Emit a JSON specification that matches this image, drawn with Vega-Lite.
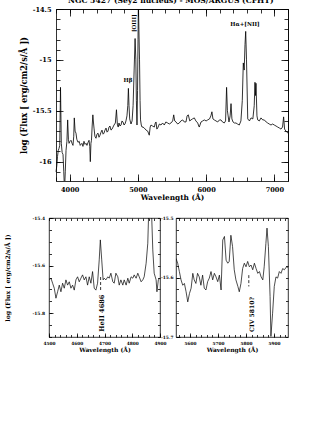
{
"$schema": "https://vega.github.io/schema/vega-lite/v6.json",
"padding": {"left": 4, "top": -4, "right": 5, "bottom": 5},
"title": {"text": "NGC 5427 (Sey2 nucleus) - MOS/ARGUS (CFHT)", "fontSize": 7.6, "font": "DejaVu Serif", "fontWeight": "bold", "color": "black", "frame": "group", "anchor": "start", "offset": 1.5, "dx": 19},
"config": {
  "font": "DejaVu Serif",
  "view": {"stroke": "black", "strokeWidth": 0.8},
  "axis": {"labelFont": "DejaVu Serif", "titleFont": "DejaVu Serif", "labelColor": "black", "titleColor": "black", "tickColor": "black", "tickWidth": 0.8, "domainColor": "black", "domainWidth": 0.8, "grid": false, "domain": false, "titleFontWeight": "bold", "labelFontWeight": "bold", "labelFlush": false, "labelOverlap": false},
  "text": {"font": "DejaVu Serif", "color": "black", "fontWeight": "bold"}
},
"datasets": {
  "top": [
{"w":3800,"f":-16.10},{"w":3812,"f":-16.04},{"w":3822,"f":-15.95},{"w":3833,"f":-15.89},{"w":3844,"f":-15.87},{"w":3855,"f":-15.84},{"w":3866,"f":-15.27},{"w":3878,"f":-15.82},{"w":3890,"f":-15.91},{"w":3903,"f":-15.93},{"w":3914,"f":-16.1},{"w":3925,"f":-16.28},{"w":3936,"f":-16.1},{"w":3947,"f":-15.89},{"w":3960,"f":-15.8},{"w":3971,"f":-15.59},{"w":3982,"f":-15.78},{"w":3991,"f":-15.82},{"w":4005,"f":-15.8},{"w":4020,"f":-15.79},{"w":4035,"f":-15.82},{"w":4049,"f":-15.84},{"w":4060,"f":-15.75},{"w":4068,"f":-15.57},{"w":4080,"f":-15.7},{"w":4093,"f":-15.72},{"w":4105,"f":-15.78},{"w":4122,"f":-15.81},{"w":4140,"f":-15.8},{"w":4155,"f":-15.84},{"w":4166,"f":-15.83},{"w":4180,"f":-15.82},{"w":4195,"f":-15.85},{"w":4210,"f":-15.8},{"w":4225,"f":-15.83},{"w":4240,"f":-15.82},{"w":4254,"f":-15.84},{"w":4270,"f":-15.81},{"w":4284,"f":-15.79},{"w":4295,"f":-15.85},{"w":4303,"f":-16.0},{"w":4312,"f":-15.82},{"w":4320,"f":-15.79},{"w":4330,"f":-15.65},{"w":4340,"f":-15.54},{"w":4350,"f":-15.62},{"w":4357,"f":-15.67},{"w":4370,"f":-15.75},{"w":4386,"f":-15.77},{"w":4400,"f":-15.73},{"w":4416,"f":-15.72},{"w":4430,"f":-15.76},{"w":4445,"f":-15.74},{"w":4460,"f":-15.71},{"w":4474,"f":-15.69},{"w":4490,"f":-15.73},{"w":4503,"f":-15.72},{"w":4518,"f":-15.69},{"w":4533,"f":-15.67},{"w":4548,"f":-15.71},{"w":4562,"f":-15.7},{"w":4577,"f":-15.66},{"w":4591,"f":-15.65},{"w":4606,"f":-15.69},{"w":4621,"f":-15.68},{"w":4636,"f":-15.66},{"w":4650,"f":-15.64},{"w":4670,"f":-15.62},{"w":4686,"f":-15.49},{"w":4700,"f":-15.64},{"w":4712,"f":-15.66},{"w":4723,"f":-15.62},{"w":4738,"f":-15.65},{"w":4753,"f":-15.64},{"w":4767,"f":-15.6},{"w":4782,"f":-15.61},{"w":4797,"f":-15.64},{"w":4811,"f":-15.63},{"w":4825,"f":-15.6},{"w":4840,"f":-15.55},{"w":4852,"f":-15.45},{"w":4861,"f":-15.28},{"w":4870,"f":-15.45},{"w":4880,"f":-15.58},{"w":4899,"f":-15.63},{"w":4915,"f":-15.6},{"w":4930,"f":-15.45},{"w":4945,"f":-15.1},{"w":4959,"f":-14.79},{"w":4970,"f":-15.0},{"w":4978,"f":-15.4},{"w":4987,"f":-15.64},{"w":4995,"f":-15.3},{"w":5002,"f":-14.8},{"w":5007,"f":-14.42},{"w":5015,"f":-14.7},{"w":5024,"f":-15.0},{"w":5032,"f":-15.4},{"w":5039,"f":-15.59},{"w":5050,"f":-15.64},{"w":5060,"f":-15.66},
{"w":5075,"f":-15.66},{"w":5094,"f":-15.67},{"w":5120,"f":-15.69},{"w":5144,"f":-15.7},{"w":5167,"f":-15.74},{"w":5180,"f":-15.66},{"w":5192,"f":-15.64},{"w":5215,"f":-15.65},{"w":5241,"f":-15.66},{"w":5255,"f":-15.62},{"w":5266,"f":-15.61},{"w":5278,"f":-15.68},{"w":5290,"f":-15.67},{"w":5315,"f":-15.63},{"w":5339,"f":-15.64},{"w":5362,"f":-15.62},{"w":5387,"f":-15.64},{"w":5410,"f":-15.61},{"w":5437,"f":-15.62},{"w":5460,"f":-15.63},{"w":5485,"f":-15.62},{"w":5510,"f":-15.6},{"w":5525,"f":-15.54},{"w":5540,"f":-15.6},{"w":5559,"f":-15.61},{"w":5583,"f":-15.63},{"w":5607,"f":-15.62},{"w":5630,"f":-15.6},{"w":5657,"f":-15.59},{"w":5680,"f":-15.61},{"w":5705,"f":-15.61},{"w":5721,"f":-15.55},{"w":5739,"f":-15.54},{"w":5760,"f":-15.6},{"w":5778,"f":-15.59},{"w":5800,"f":-15.58},{"w":5827,"f":-15.57},{"w":5850,"f":-15.6},{"w":5877,"f":-15.62},{"w":5892,"f":-15.65},{"w":5900,"f":-15.66},{"w":5925,"f":-15.61},{"w":5950,"f":-15.6},{"w":5973,"f":-15.59},{"w":6000,"f":-15.6},{"w":6023,"f":-15.59},{"w":6050,"f":-15.58},{"w":6070,"f":-15.55},{"w":6085,"f":-15.51},{"w":6100,"f":-15.58},{"w":6120,"f":-15.59},{"w":6145,"f":-15.6},{"w":6170,"f":-15.61},{"w":6195,"f":-15.59},{"w":6218,"f":-15.59},{"w":6240,"f":-15.61},{"w":6266,"f":-15.62},{"w":6285,"f":-15.6},{"w":6300,"f":-15.27},{"w":6312,"f":-15.5},{"w":6335,"f":-15.61},{"w":6352,"f":-15.55},{"w":6365,"f":-15.43},{"w":6378,"f":-15.58},{"w":6394,"f":-15.61},{"w":6415,"f":-15.62},{"w":6438,"f":-15.62},{"w":6460,"f":-15.63},{"w":6486,"f":-15.64},{"w":6510,"f":-15.6},{"w":6530,"f":-15.4},{"w":6545,"f":-15.03},{"w":6558,"f":-15.1},{"w":6570,"f":-14.85},{"w":6580,"f":-14.72},{"w":6592,"f":-15.0},{"w":6610,"f":-15.58},{"w":6635,"f":-15.6},{"w":6658,"f":-15.57},{"w":6685,"f":-15.58},{"w":6705,"f":-15.45},{"w":6716,"f":-15.22},{"w":6724,"f":-15.35},{"w":6731,"f":-15.23},{"w":6745,"f":-15.55},{"w":6756,"f":-15.59},{"w":6780,"f":-15.6},{"w":6804,"f":-15.57},{"w":6830,"f":-15.59},{"w":6853,"f":-15.59},{"w":6880,"f":-15.61},{"w":6902,"f":-15.62},{"w":6925,"f":-15.63},{"w":6951,"f":-15.64},{"w":6975,"f":-15.63},{"w":6999,"f":-15.64},{"w":7025,"f":-15.65},{"w":7049,"f":-15.66},{"w":7075,"f":-15.67},{"w":7097,"f":-15.68},{"w":7120,"f":-15.66},{"w":7136,"f":-15.56},{"w":7150,"f":-15.68},{"w":7170,"f":-15.7},{"w":7185,"f":-15.71},{"w":7200,"f":-15.72}
  ],
  "topLabB": [{"w": 4855, "f": -15.2, "label": "Hβ"}],
  "topLabA": [{"w": 6570, "f": -14.65, "label": "Hα+[NII]"}],
  "topLabR": [{"w": 4936, "f": -14.64, "label": "[OIII]"}],
  "bl": [
{"w":4501,"f":-15.66},{"w":4507,"f":-15.653},{"w":4513,"f":-15.674},{"w":4519,"f":-15.695},{"w":4525,"f":-15.737},{"w":4531,"f":-15.71},{"w":4537,"f":-15.682},{"w":4543,"f":-15.71},{"w":4549,"f":-15.674},{"w":4555,"f":-15.695},{"w":4561,"f":-15.66},{"w":4567,"f":-15.682},{"w":4573,"f":-15.668},{"w":4579,"f":-15.695},{"w":4585,"f":-15.682},{"w":4591,"f":-15.703},{"w":4597,"f":-15.66},{"w":4603,"f":-15.647},{"w":4609,"f":-15.668},{"w":4615,"f":-15.653},{"w":4621,"f":-15.639},{"w":4627,"f":-15.66},{"w":4633,"f":-15.647},{"w":4639,"f":-15.682},{"w":4645,"f":-15.647},{"w":4651,"f":-15.674},{"w":4657,"f":-15.625},{"w":4663,"f":-15.695},{"w":4669,"f":-15.703},{"w":4675,"f":-15.674},{"w":4681,"f":-15.576},{"w":4685,"f":-15.492},{"w":4690,"f":-15.576},{"w":4695,"f":-15.66},{"w":4699,"f":-15.653},{"w":4705,"f":-15.66},{"w":4712,"f":-15.647},{"w":4717,"f":-15.653},{"w":4723,"f":-15.632},{"w":4730,"f":-15.668},{"w":4735,"f":-15.674},{"w":4741,"f":-15.632},{"w":4748,"f":-15.647},{"w":4753,"f":-15.682},{"w":4759,"f":-15.66},{"w":4766,"f":-15.682},{"w":4771,"f":-15.66},{"w":4778,"f":-15.682},{"w":4784,"f":-15.653},{"w":4789,"f":-15.674},{"w":4796,"f":-15.647},{"w":4802,"f":-15.653},{"w":4807,"f":-15.639},{"w":4814,"f":-15.653},{"w":4820,"f":-15.632},{"w":4825,"f":-15.647},{"w":4832,"f":-15.668},{"w":4838,"f":-15.66},{"w":4843,"f":-15.647},{"w":4850,"f":-15.59},{"w":4856,"f":-15.506},{"w":4861,"f":-15.3},{"w":4868,"f":-15.32},{"w":4874,"f":-15.534},{"w":4879,"f":-15.632},{"w":4886,"f":-15.66},{"w":4889,"f":-15.71},{"w":4894,"f":-15.66},{"w":4900,"f":-15.653}
  ],
  "blRule": [{"w": 4686, "f": -15.648, "f2": -15.703}],
  "blLab": [{"w": 4690, "f": -15.8, "label": "HeII 4686"}],
  "br": [
{"w":5550,"f":-15.568},{"w":5556,"f":-15.576},{"w":5562,"f":-15.59},{"w":5568,"f":-15.604},{"w":5574,"f":-15.613},{"w":5580,"f":-15.61},{"w":5586,"f":-15.624},{"w":5592,"f":-15.641},{"w":5598,"f":-15.627},{"w":5604,"f":-15.618},{"w":5610,"f":-15.593},{"w":5615,"f":-15.604},{"w":5621,"f":-15.61},{"w":5627,"f":-15.593},{"w":5633,"f":-15.599},{"w":5639,"f":-15.613},{"w":5645,"f":-15.596},{"w":5651,"f":-15.618},{"w":5657,"f":-15.621},{"w":5663,"f":-15.607},{"w":5669,"f":-15.601},{"w":5675,"f":-15.59},{"w":5681,"f":-15.604},{"w":5687,"f":-15.593},{"w":5693,"f":-15.599},{"w":5699,"f":-15.607},{"w":5705,"f":-15.596},{"w":5711,"f":-15.621},{"w":5717,"f":-15.537},{"w":5723,"f":-15.531},{"w":5729,"f":-15.571},{"w":5735,"f":-15.576},{"w":5740,"f":-15.573},{"w":5746,"f":-15.529},{"w":5752,"f":-15.548},{"w":5758,"f":-15.587},{"w":5764,"f":-15.604},{"w":5771,"f":-15.615},{"w":5776,"f":-15.624},{"w":5782,"f":-15.61},{"w":5788,"f":-15.585},{"w":5794,"f":-15.576},{"w":5800,"f":-15.582},{"w":5806,"f":-15.573},{"w":5812,"f":-15.582},{"w":5818,"f":-15.579},{"w":5824,"f":-15.587},{"w":5830,"f":-15.576},{"w":5836,"f":-15.585},{"w":5842,"f":-15.593},{"w":5848,"f":-15.59},{"w":5854,"f":-15.599},{"w":5860,"f":-15.604},{"w":5865,"f":-15.582},{"w":5871,"f":-15.543},{"w":5875,"f":-15.517},{"w":5880,"f":-15.548},{"w":5886,"f":-15.632},{"w":5889,"f":-15.699},{"w":5895,"f":-15.66},{"w":5901,"f":-15.615},{"w":5907,"f":-15.599},{"w":5913,"f":-15.601},{"w":5919,"f":-15.59},{"w":5925,"f":-15.593},{"w":5931,"f":-15.585},{"w":5937,"f":-15.587},{"w":5945,"f":-15.582},{"w":5950,"f":-15.583}
  ],
  "brRule": [{"w": 5810, "f": -15.596, "f2": -15.615}],
  "brLab": [{"w": 5820, "f": -15.662, "label": "CIV 5810?"}]
},
"vconcat": [
  {"width": 239, "height": 172, "view": {"stroke": null},
   "layer": [
    {"data": {"name": "top"}, "mark": {"type": "line", "color": "black", "strokeWidth": 0.8, "clip": true},
     "encoding": {
      "x": {"field": "w", "type": "quantitative", "scale": {"domain": [3800, 7200], "range": [7, 239], "nice": false, "zero": false},
            "axis": {"orient": "bottom", "values": [4000, 5000, 6000, 7000], "labelExpr": "toString(datum.value)", "tickSize": -7, "labelPadding": 12, "labelFontSize": 6.6, "title": "Wavelength (Å)", "titleFontSize": 7.4, "titlePadding": 1}},
      "y": {"field": "f", "type": "quantitative", "scale": {"domain": [-16.19, -14.5], "nice": false, "zero": false},
            "axis": {"orient": "left", "offset": -7, "values": [-16, -15.5, -15, -14.5], "labelExpr": "toString(datum.value)", "tickSize": -7, "labelPadding": 12, "labelFontSize": 6.6, "title": "log (Flux [ erg/cm2/s/Å ])", "titleFontSize": 8.3, "titlePadding": 4}}
     }},
    {"data": {"name": "topLabB"}, "mark": {"type": "text", "fontSize": 5.5, "color": "black", "fontWeight": "bold"},
     "encoding": {
      "x": {"field": "w", "type": "quantitative", "axis": {"orient": "bottom", "domain": true, "values": [3800,4000,4200,4400,4600,4800,5000,5200,5400,5600,5800,6000,6200,6400,6600,6800,7000,7200], "labels": false, "title": null, "tickSize": -4}},
      "y": {"field": "f", "type": "quantitative", "axis": {"orient": "left", "offset": -7, "domain": true, "values": [-16.1,-16,-15.9,-15.8,-15.7,-15.6,-15.5,-15.4,-15.3,-15.2,-15.1,-15,-14.9,-14.8,-14.7,-14.6,-14.5], "labels": false, "title": null, "tickSize": -4}},
      "text": {"field": "label", "type": "nominal"}
     }},
    {"data": {"name": "topLabA"}, "mark": {"type": "text", "fontSize": 5.5, "color": "black", "fontWeight": "bold"},
     "encoding": {
      "x": {"field": "w", "type": "quantitative", "axis": {"orient": "top", "domain": true, "values": [4000,5000,6000,7000], "labels": false, "title": null, "tickSize": -7}},
      "y": {"field": "f", "type": "quantitative", "axis": {"orient": "right", "domain": true, "values": [-16,-15.5,-15,-14.5], "labels": false, "title": null, "tickSize": -7}},
      "text": {"field": "label", "type": "nominal"}
     }},
    {"data": {"name": "topLabR"}, "mark": {"type": "text", "fontSize": 5.5, "angle": 270, "color": "black", "fontWeight": "bold"},
     "encoding": {
      "x": {"field": "w", "type": "quantitative", "axis": {"orient": "top", "domain": true, "values": [3800,4000,4200,4400,4600,4800,5000,5200,5400,5600,5800,6000,6200,6400,6600,6800,7000,7200], "labels": false, "title": null, "tickSize": -4}},
      "y": {"field": "f", "type": "quantitative", "axis": {"orient": "right", "domain": true, "values": [-16.1,-16,-15.9,-15.8,-15.7,-15.6,-15.5,-15.4,-15.3,-15.2,-15.1,-15,-14.9,-14.8,-14.7,-14.6,-14.5], "labels": false, "title": null, "tickSize": -4}},
      "text": {"field": "label", "type": "nominal"}
     }}
   ],
   "resolve": {"axis": {"x": "independent", "y": "independent"}}},
  {"hconcat": [
    {"width": 111, "height": 119,
     "layer": [
      {"data": {"name": "bl"}, "mark": {"type": "line", "color": "black", "strokeWidth": 0.7, "clip": true},
       "encoding": {
        "x": {"field": "w", "type": "quantitative", "scale": {"domain": [4500, 4900], "nice": false, "zero": false},
              "axis": {"orient": "bottom", "values": [4500, 4600, 4700, 4800, 4900], "labelExpr": "toString(datum.value)", "tickSize": -4, "labelPadding": 8, "labelFontSize": 4.3, "title": "Wavelength (Å)", "titleFontSize": 6, "titlePadding": 1.5}},
        "y": {"field": "f", "type": "quantitative", "scale": {"domain": [-15.9, -15.4], "nice": false, "zero": false},
              "axis": {"orient": "left", "values": [-15.8, -15.6, -15.4], "labelExpr": "toString(datum.value)", "tickSize": -4, "labelPadding": 8.5, "labelFontSize": 4.4, "title": "log (Flux [ erg/cm2/s/Å ])", "titleFontSize": 6.2, "titlePadding": 21}}
       }},
      {"data": {"name": "blRule"}, "mark": {"type": "rule", "color": "black", "strokeWidth": 0.8, "strokeDash": [3, 2]},
       "encoding": {
        "x": {"field": "w", "type": "quantitative", "axis": {"orient": "bottom", "values": [4500,4520,4540,4560,4580,4600,4620,4640,4660,4680,4700,4720,4740,4760,4780,4800,4820,4840,4860,4880,4900], "labels": false, "title": null, "tickSize": -2.5}},
        "y": {"field": "f", "type": "quantitative", "axis": {"orient": "left", "values": [-15.9,-15.85,-15.8,-15.75,-15.7,-15.65,-15.6,-15.55,-15.5,-15.45,-15.4], "labels": false, "title": null, "tickSize": -2.5}},
        "y2": {"field": "f2"}
       }},
      {"data": {"name": "blLab"}, "mark": {"type": "text", "fontSize": 6.6, "angle": 270, "color": "black", "fontWeight": "bold"},
       "encoding": {
        "x": {"field": "w", "type": "quantitative", "axis": {"orient": "top", "values": [4500,4520,4540,4560,4580,4600,4620,4640,4660,4680,4700,4720,4740,4760,4780,4800,4820,4840,4860,4880,4900], "labels": false, "title": null, "tickSize": -2.5}},
        "y": {"field": "f", "type": "quantitative", "axis": {"orient": "right", "values": [-15.9,-15.85,-15.8,-15.75,-15.7,-15.65,-15.6,-15.55,-15.5,-15.45,-15.4], "labels": false, "title": null, "tickSize": -2.5}},
        "text": {"field": "label", "type": "nominal"}
       }}
     ],
     "resolve": {"axis": {"x": "independent", "y": "independent"}}},
    {"width": 112, "height": 119,
     "layer": [
      {"data": {"name": "br"}, "mark": {"type": "line", "color": "black", "strokeWidth": 0.7, "clip": true},
       "encoding": {
        "x": {"field": "w", "type": "quantitative", "scale": {"domain": [5550, 5950], "nice": false, "zero": false},
              "axis": {"orient": "bottom", "values": [5600, 5700, 5800, 5900], "labelExpr": "toString(datum.value)", "tickSize": -4, "labelPadding": 8, "labelFontSize": 4.3, "title": "Wavelength (Å)", "titleFontSize": 6, "titlePadding": 1.5}},
        "y": {"field": "f", "type": "quantitative", "scale": {"domain": [-15.7, -15.5], "nice": false, "zero": false},
              "axis": {"orient": "left", "values": [-15.7, -15.6, -15.5], "labelExpr": "toString(datum.value)", "tickSize": -4, "labelPadding": 7, "labelFontSize": 4.4, "title": null}}
       }},
      {"data": {"name": "brRule"}, "mark": {"type": "rule", "color": "black", "strokeWidth": 0.8, "strokeDash": [3, 2]},
       "encoding": {
        "x": {"field": "w", "type": "quantitative", "axis": {"orient": "bottom", "values": [5560,5580,5600,5620,5640,5660,5680,5700,5720,5740,5760,5780,5800,5820,5840,5860,5880,5900,5920,5940], "labels": false, "title": null, "tickSize": -2.5}},
        "y": {"field": "f", "type": "quantitative", "axis": {"orient": "left", "values": [-15.7,-15.68,-15.66,-15.64,-15.62,-15.6,-15.58,-15.56,-15.54,-15.52,-15.5], "labels": false, "title": null, "tickSize": -2.5}},
        "y2": {"field": "f2"}
       }},
      {"data": {"name": "brLab"}, "mark": {"type": "text", "fontSize": 6.1, "angle": 270, "color": "black", "fontWeight": "bold"},
       "encoding": {
        "x": {"field": "w", "type": "quantitative", "axis": {"orient": "top", "values": [5560,5580,5600,5620,5640,5660,5680,5700,5720,5740,5760,5780,5800,5820,5840,5860,5880,5900,5920,5940], "labels": false, "title": null, "tickSize": -2.5}},
        "y": {"field": "f", "type": "quantitative", "axis": {"orient": "right", "values": [-15.7,-15.68,-15.66,-15.64,-15.62,-15.6,-15.58,-15.56,-15.54,-15.52,-15.5], "labels": false, "title": null, "tickSize": -2.5}},
        "text": {"field": "label", "type": "nominal"}
       }}
     ],
     "resolve": {"axis": {"x": "independent", "y": "independent"}}}
  ], "spacing": 16, "bounds": "flush"}
],
"spacing": 37,
"bounds": "flush"
}
